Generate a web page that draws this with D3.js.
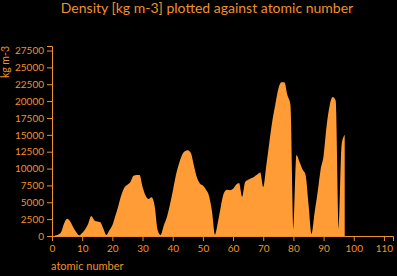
<!DOCTYPE html>
<html lang="en">
<head>
  <title>Density against atomic number</title>
  <meta charset="utf-8">
  <script src="https://d3js.org/d3.v7.min.js" charset="utf-8"></script>
  <style>
    body { margin: 0; background: #000; }
    text { font-family: Lato, sans-serif; fill: #f0922c; }
  </style>
</head>
<body>
<script>
// atomic number vs density [kg m-3]
var atomicNumber = d3.range(1, 98);
var density = [
  80, 200, 550, 1850, 2550, 2200, 1350, 600, 100, 450,
  1000, 1800, 2950, 2350, 2150, 2050, 1100, 150, 850, 1600,
  3000, 4500, 6100, 7200, 7600, 8000, 8950, 9050, 9050, 7300,
  6000, 5500, 5750, 4500, 900, 150, 1500, 2700, 4500, 6600,
  8900, 10600, 11900, 12550, 12700, 12300, 10500, 8700, 7800, 7500,
  6900, 6000, 3700, 200, 2100, 4500, 6400, 6850, 6800, 7000,
  7600, 7850, 5800, 8000, 8350, 8550, 8800, 9100, 9400, 7250,
  10400, 13800, 17000, 19500, 21800, 22800, 22800, 20900, 19500, 800,
  12000, 11000, 9900, 9100, 4700, 300, 3400, 6400, 9800, 11900,
  16300, 19300, 20600, 20100, 800, 13600, 15000
];
var xTicks = d3.range(0, 111, 10);
var yTicks = d3.range(0, 27501, 2500);

var w = 397, h = 276;
var orange = "#f0922c";

var svg = d3.select("body").append("svg")
  .attr("width", w)
  .attr("height", h);

var x = d3.scaleLinear().domain([0, 113]).range([52, 393]);
var y = d3.scaleLinear().domain([0, 28170]).range([236, 46]);

var pts = atomicNumber.map(function(n, i) { return [n, density[i]]; });

svg.append("path")
  .datum(pts)
  .attr("fill", "#ff9c36")
  .attr("d", d3.area()
    .x(function(d) { return x(d[0]); })
    .y0(y(0))
    .y1(function(d) { return y(d[1]); })
    .curve(d3.curveMonotoneX));

var xAxis = svg.append("g")
  .attr("transform", "translate(0,236)")
  .call(d3.axisBottom(x).tickValues(xTicks).tickFormat(d3.format("d"))
    .tickSizeOuter(0).tickSize(5).tickPadding(4));

var yAxis = svg.append("g")
  .attr("transform", "translate(52,0)")
  .call(d3.axisLeft(y).tickValues(yTicks).tickFormat(d3.format("d"))
    .tickSizeOuter(0).tickSize(5).tickPadding(3));

[xAxis, yAxis].forEach(function(g) {
  g.selectAll("path, line").attr("stroke", orange);
  g.selectAll("text").attr("fill", orange)
    .style("font-family", "Lato, sans-serif").style("font-size", "10px");
});

svg.append("text")
  .attr("x", 207)
  .attr("y", 13)
  .attr("text-anchor", "middle")
  .style("font-size", "14px")
  .text("Density [kg m-3] plotted against atomic number");

svg.append("text")
  .attr("x", 51)
  .attr("y", 270)
  .style("font-size", "11px")
  .text("atomic number");

svg.append("text")
  .attr("transform", "translate(9,46) rotate(-90)")
  .attr("text-anchor", "end")
  .style("font-size", "10.5px")
  .text("kg m-3");
</script>
</body>
</html>
